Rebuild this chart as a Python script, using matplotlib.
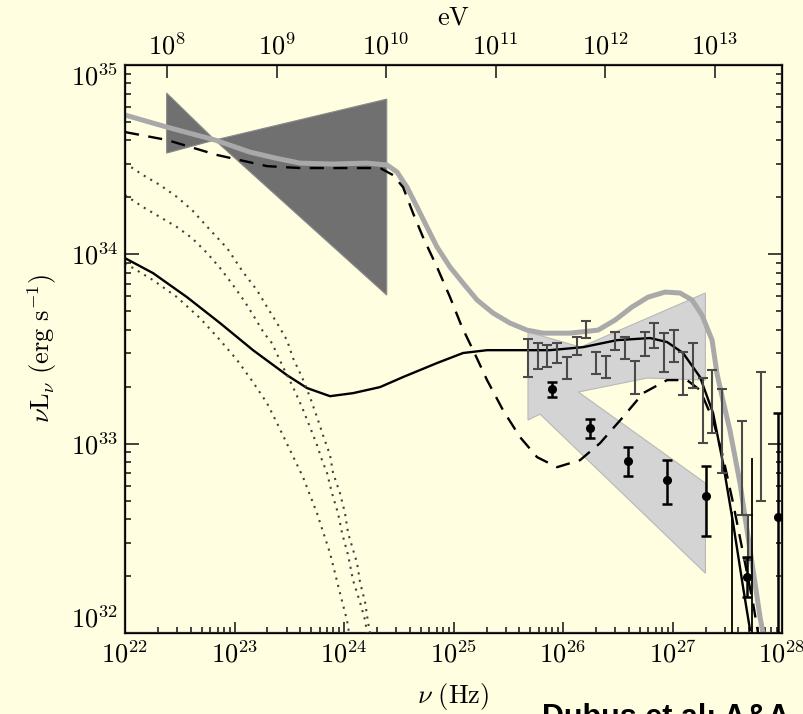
import numpy as np
import matplotlib
matplotlib.use("Agg")
import matplotlib.pyplot as plt
from matplotlib.ticker import FixedLocator, FuncFormatter, NullLocator, LogLocator

plt.rcParams["mathtext.fontset"] = "cm"

# Curves: log10(nu / Hz) and log10(nu L_nu / erg s^-1)
total_lognu = [22.000, 22.384, 22.822, 23.142, 23.370, 23.598, 23.900, 24.210, 24.393, 24.484,
               24.575, 24.667, 24.758, 24.849, 24.968, 25.087, 25.215, 25.361, 25.516, 25.671,
               25.817, 26.064, 26.320, 26.475, 26.630, 26.776, 26.932, 27.068, 27.178, 27.269,
               27.361, 27.406, 27.461, 27.525, 27.571, 27.616, 27.662, 27.708, 27.753, 27.799,
               27.826]
total_logL = [34.736, 34.672, 34.604, 34.540, 34.509, 34.482, 34.477, 34.482, 34.472, 34.435,
              34.355, 34.250, 34.144, 34.039, 33.933, 33.848, 33.759, 33.690, 33.637, 33.600,
              33.584, 33.584, 33.600, 33.653, 33.722, 33.774, 33.801, 33.796, 33.759, 33.679,
              33.547, 33.370, 33.227, 33.068, 32.929, 32.792, 32.612, 32.438, 32.264, 32.084,
              32.000]

dashed_lognu = [22.000, 22.384, 22.840, 23.297, 23.598, 24.210, 24.329, 24.447, 24.539, 24.630,
                24.721, 24.849, 24.968, 25.077, 25.178, 25.306, 25.452, 25.607, 25.763, 25.945,
                26.155, 26.338, 26.548, 26.731, 26.950, 27.132, 27.251, 27.370, 27.461, 27.553,
                27.644, 27.735, 27.781]
dashed_logL = [34.646, 34.604, 34.525, 34.466, 34.456, 34.456, 34.456, 34.419, 34.355, 34.218,
               34.091, 33.933, 33.774, 33.616, 33.495, 33.336, 33.177, 33.035, 32.929, 32.876,
               32.913, 33.003, 33.141, 33.267, 33.336, 33.336, 33.283, 33.125, 32.929, 32.686,
               32.422, 32.158, 32.000]

solid_lognu = [22.000, 22.256, 22.566, 22.868, 23.169, 23.479, 23.662, 23.872, 24.082, 24.329,
               24.539, 24.849, 25.087, 25.306, 25.671, 25.881, 26.183, 26.493, 26.795, 26.950,
               27.096, 27.251, 27.370, 27.461, 27.553, 27.644, 27.708]
solid_logL = [33.980, 33.901, 33.774, 33.637, 33.494, 33.362, 33.294, 33.251, 33.267, 33.299,
              33.352, 33.426, 33.479, 33.494, 33.494, 33.494, 33.510, 33.547, 33.558, 33.537,
              33.479, 33.352, 33.162, 32.897, 32.581, 32.242, 32.015]

dotA_lognu = [22.000, 22.164, 22.320, 22.475, 22.612, 22.804, 22.932, 23.078, 23.205, 23.297,
              23.388, 23.479, 23.534, 23.616, 23.689, 23.753, 23.808, 23.872, 23.900, 23.963,
              24.009, 24.037, 24.119, 24.146, 24.192, 24.219, 24.237]
dotA_logL = [34.482, 34.419, 34.366, 34.303, 34.234, 34.112, 34.033, 33.906, 33.811, 33.722,
             33.637, 33.547, 33.452, 33.352, 33.246, 33.141, 33.045, 32.940, 32.845, 32.739,
             32.633, 32.528, 32.369, 32.269, 32.163, 32.058, 32.000]

dotB_lognu = [22.000, 22.164, 22.320, 22.475, 22.612, 22.749, 22.868, 22.986, 23.096, 23.187,
              23.269, 23.342, 23.443, 23.534, 23.616, 23.689, 23.753, 23.799, 23.845, 23.890,
              23.945, 23.982, 24.037, 24.082, 24.146, 24.192, 24.210]
dotB_logL = [34.313, 34.250, 34.197, 34.144, 34.086, 34.007, 33.928, 33.838, 33.748, 33.663,
             33.584, 33.531, 33.405, 33.299, 33.193, 33.088, 32.993, 32.913, 32.845, 32.739,
             32.633, 32.528, 32.411, 32.279, 32.163, 32.068, 32.000]

dotC_lognu = [22.000, 22.073, 22.256, 22.475, 22.685, 22.868, 23.023, 23.169, 23.297, 23.388,
              23.507, 23.626, 23.753, 23.872, 23.963, 24.027, 24.046]
dotC_logL = [33.954, 33.928, 33.864, 33.774, 33.663, 33.547, 33.442, 33.325, 33.214, 33.109,
             32.966, 32.823, 32.633, 32.422, 32.211, 32.068, 32.000]

# Bowties (polygons)
fermi_lognu = [22.38, 22.82, 24.39, 24.39, 22.82, 22.38]
fermi_logL = [34.852, 34.604, 34.820, 33.785, 34.604, 34.535]

hess_lognu = [25.68, 26.16, 27.30, 27.30, 26.77, 26.14, 27.30, 27.30, 25.79, 25.68]
hess_logL = [33.590, 33.510, 33.796, 33.336, 33.347, 33.273, 32.792, 32.316, 33.156, 33.125]

# Grey error bars (no markers)
grey_lognu = [25.680, 25.772, 25.854, 25.945, 26.037, 26.128, 26.210, 26.301, 26.393, 26.475,
              26.566, 26.658, 26.749, 26.831, 26.922, 27.014, 27.096, 27.187, 27.279, 27.361,
              27.452, 27.635, 27.690, 27.808]
grey_loglo = [33.352, 33.394, 33.405, 33.426, 33.341, 33.468, 33.558, 33.368, 33.347, 33.494,
              33.447, 33.262, 33.463, 33.505, 33.378, 33.431, 33.257, 33.294, 33.003, 33.056,
              32.845, 32.623, 32.385, 32.697]
grey_loghi = [33.553, 33.531, 33.521, 33.531, 33.457, 33.563, 33.648, 33.484, 33.463, 33.590,
              33.563, 33.437, 33.590, 33.637, 33.584, 33.600, 33.484, 33.531, 33.347, 33.389,
              33.288, 33.119, 32.623, 33.378]

# Black points with error bars
pts_lognu = [25.900, 26.247, 26.594, 26.950, 27.306, 27.680, 27.963]
pts_logL = [33.288, 33.082, 32.908, 32.808, 32.723, 32.295, 32.612]
pts_loglo = [33.246, 33.030, 32.829, 32.681, 32.512, 32.190, 31.900]
pts_loghi = [33.325, 33.130, 32.982, 32.913, 32.882, 32.401, 33.162]

# Black bars without points (reaching the bottom)
lim_lognu = [27.543, 27.726]
lim_loghi = [32.639, 32.924]

ev_ticks = [1e8, 1e9, 1e10, 1e11, 1e12, 1e13]
HZ_PER_EV = 2.418e14

bg = "#fffee0"
p = lambda a: 10 ** np.asarray(a, dtype=float)

fig = plt.figure(figsize=(8.04, 7.14), dpi=100, facecolor=bg)
ax = fig.add_axes([0.1555, 0.1134, 0.8172, 0.7955], facecolor=bg)
ax.set_xscale("log")
ax.set_yscale("log")

ax.fill(p(fermi_lognu), p(fermi_logL), color="#707070", lw=0.8, ec="#8a8a8a", zorder=1)
ax.fill(p(hess_lognu), p(hess_logL), color="#d4d4d4", lw=0.8, ec="#b8b8b8", zorder=1)

ax.plot(p(total_lognu), p(total_logL), color="#a9a9a9", lw=3.6, zorder=2,
        solid_joinstyle="round")
ax.plot(p(dashed_lognu), p(dashed_logL), color="black", lw=1.7, ls=(0, (6, 4)), zorder=3)
ax.plot(p(solid_lognu), p(solid_logL), color="black", lw=1.7, zorder=3)
for xs, ys in [(dotA_lognu, dotA_logL), (dotB_lognu, dotB_logL), (dotC_lognu, dotC_logL)]:
    ax.plot(p(xs), p(ys), color="#404040", lw=1.5, ls=(0, (1, 2.6)), zorder=3)

gx = p(grey_lognu)
gmid = np.sqrt(p(grey_loglo) * p(grey_loghi))
ax.errorbar(gx, gmid, yerr=[gmid - p(grey_loglo), p(grey_loghi) - gmid], fmt="none",
            ecolor="#4a4a4a", elinewidth=1.5, capsize=3.5, capthick=1.5, zorder=4)

px = p(pts_lognu)
py = p(pts_logL)
ax.errorbar(px, py, yerr=[py - p(pts_loglo), p(pts_loghi) - py], fmt="o", color="black",
            ms=5.5, elinewidth=1.8, capsize=3.5, capthick=1.8, zorder=5)
ax.vlines(p(lim_lognu), 1e31, p(lim_loghi), color="black", lw=1.3, zorder=5)

ax.set_xlim(1e22, 1e28)
ax.set_ylim(1e32, 1e35)

fmt = FuncFormatter(lambda v, pos: r"$10^{%d}$" % round(np.log10(v)))
ax.xaxis.set_major_locator(FixedLocator([10.0 ** k for k in range(22, 29)]))
ax.yaxis.set_major_locator(FixedLocator([10.0 ** k for k in range(32, 36)]))
ax.xaxis.set_minor_locator(LogLocator(base=10, subs=np.arange(2, 10)))
ax.yaxis.set_minor_locator(LogLocator(base=10, subs=np.arange(2, 10)))
ax.xaxis.set_major_formatter(fmt)
ax.yaxis.set_major_formatter(fmt)
ax.tick_params(which="both", direction="in", colors="#222222", labelcolor="black",
               labelsize=19, top=False, right=True, width=1.2)
ax.tick_params(axis="x", which="major", length=8, pad=6)
ax.tick_params(axis="y", which="major", length=10, pad=5)
ax.tick_params(which="minor", length=4)
for s in ax.spines.values():
    s.set_linewidth(1.6)
    s.set_color("#222222")

# end labels on the y axis sit inside the axis range, like the original
yticks = ax.yaxis.get_major_ticks()
yticks[0].label1.set_verticalalignment("bottom")
yticks[-1].label1.set_verticalalignment("top")

ax2 = ax.twiny()
ax2.set_xscale("log")
ax2.set_xlim(1e22 / HZ_PER_EV, 1e28 / HZ_PER_EV)
ax2.xaxis.set_major_locator(FixedLocator(ev_ticks))
ax2.xaxis.set_minor_locator(NullLocator())
ax2.xaxis.set_major_formatter(fmt)
ax2.tick_params(axis="x", direction="in", length=9, width=1.2, labelsize=19, pad=3,
                colors="#222222", labelcolor="black")
ax2.set_xlabel(r"$\mathrm{eV}$", fontsize=19, labelpad=7)

ax.set_xlabel(r"$\nu\ (\mathrm{Hz})$", fontsize=19, labelpad=9)
ax.set_ylabel(r"$\nu\mathrm{L}_\nu\ (\mathrm{erg\ s}^{-1})$", fontsize=19, labelpad=8)

fig.text(0.674, 0.016, "Dubus et al: A&A", fontsize=22, fontweight="bold",
         family="Liberation Sans", va="top", ha="left")

fig.savefig("out.png", dpi=100, facecolor=bg)
